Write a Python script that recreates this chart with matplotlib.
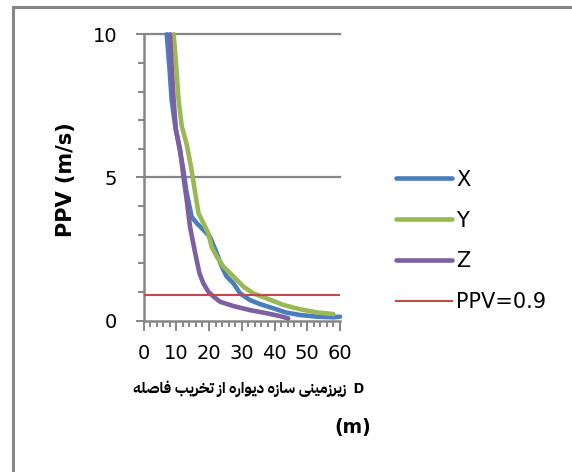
import matplotlib
matplotlib.use("Agg")
import matplotlib.pyplot as plt
from matplotlib.patches import Rectangle

# ---- data ----
x_X = [7.1, 7.9, 8.6, 9.7, 10.7, 12.0, 13.2, 14.7, 16.3, 18.3, 20.3, 22.4, 23.9, 25.4,
       27.5, 29.5, 32.5, 35.6, 39.7, 43.7, 47.8, 52.9, 58.0, 60.0]
y_X = [10.0, 8.87, 7.71, 6.78, 6.19, 5.38, 4.45, 3.63, 3.40, 3.17, 2.93, 2.35, 1.89, 1.54,
       1.30, 0.95, 0.72, 0.58, 0.43, 0.28, 0.20, 0.14, 0.12, 0.14]
x_Y = [9.2, 10.0, 10.7, 11.7, 13.2, 14.5, 15.8, 16.8, 18.3, 19.8, 20.8, 22.4, 24.4, 27.5,
       30.5, 33.6, 37.6, 42.7, 47.8, 52.9, 58.0]
y_Y = [10.0, 8.87, 7.71, 6.78, 6.15, 5.38, 4.45, 3.75, 3.40, 3.05, 2.58, 2.23, 1.89, 1.54,
       1.19, 0.95, 0.78, 0.55, 0.40, 0.29, 0.23]
x_Z = [8.1, 8.6, 9.2, 9.9, 11.2, 12.2, 13.2, 14.2, 15.8, 17.1, 18.3, 19.8, 21.4, 23.4,
       27.5, 32.5, 37.6, 41.7, 44.2]
y_Z = [10.0, 8.87, 7.71, 6.66, 5.96, 5.03, 4.21, 3.28, 2.35, 1.65, 1.30, 1.01, 0.84, 0.66,
       0.51, 0.37, 0.26, 0.16, 0.08]
ppv_limit = 0.9
series_names = ["X", "Y", "Z"]
limit_label = "PPV=0.9"
x_ticks = [0, 10, 20, 30, 40, 50, 60]
y_ticks = [0, 5, 10]
ylabel = "PPV (m/s)"
xlabel_fa = "فاصله تخریب از دیواره سازه زیرزمینی"
xlabel_tail = "D"
xlabel_line2 = "(m)"

# ---- minimal Persian shaping: each word to presentation forms, drawn right-to-left ----
FORMS = {  # isolated, final, initial, medial
    'ا': ('\uFE8D', '\uFE8E', None, None),
    'ب': ('\uFE8F', '\uFE90', '\uFE91', '\uFE92'),
    'ت': ('\uFE95', '\uFE96', '\uFE97', '\uFE98'),
    'خ': ('\uFEA5', '\uFEA6', '\uFEA7', '\uFEA8'),
    'د': ('\uFEA9', '\uFEAA', None, None),
    'ر': ('\uFEAD', '\uFEAE', None, None),
    'ز': ('\uFEAF', '\uFEB0', None, None),
    'س': ('\uFEB1', '\uFEB2', '\uFEB3', '\uFEB4'),
    'ص': ('\uFEB9', '\uFEBA', '\uFEBB', '\uFEBC'),
    'ف': ('\uFED1', '\uFED2', '\uFED3', '\uFED4'),
    'ل': ('\uFEDD', '\uFEDE', '\uFEDF', '\uFEE0'),
    'م': ('\uFEE1', '\uFEE2', '\uFEE3', '\uFEE4'),
    'ن': ('\uFEE5', '\uFEE6', '\uFEE7', '\uFEE8'),
    'ه': ('\uFEE9', '\uFEEA', '\uFEEB', '\uFEEC'),
    'و': ('\uFEED', '\uFEEE', None, None),
    'ی': ('\uFEEF', '\uFEF0', '\uFEF3', '\uFEF4'),
}


def shape_word(word):
    chars = list(word)
    res = []
    for i, c in enumerate(chars):
        f = FORMS.get(c)
        if f is None:
            res.append(c)
            continue
        prev = FORMS.get(chars[i - 1]) if i > 0 else None
        nxt = FORMS.get(chars[i + 1]) if i + 1 < len(chars) else None
        join_prev = prev is not None and prev[2] is not None
        join_next = nxt is not None and f[2] is not None
        if join_prev and join_next:
            res.append(f[3])
        elif join_prev:
            res.append(f[1])
        elif join_next:
            res.append(f[2])
        else:
            res.append(f[0])
    return ''.join(res)[::-1]


def shape(text):
    # the reference shows the words in left-to-right order, each word written right-to-left
    return ' '.join(shape_word(w) for w in text.split(' '))


GREY = "#868686"
fig = plt.figure(figsize=(5.72, 4.72), dpi=100)
fig.patches.append(Rectangle((13.3 / 572, -0.1), 1.2, (472 - 6.5) / 472 + 0.1,
                             transform=fig.transFigure, fill=False,
                             edgecolor=GREY, linewidth=2.2))
ax = fig.add_axes([143.5 / 572, 1 - 320.7 / 472, (340 - 143.5) / 572, (320.7 - 34.3) / 472])

lw = 3.3
ax.plot(x_X, y_X, color="#4a7ebb", lw=lw, label=series_names[0], solid_capstyle="round",
        solid_joinstyle="round", zorder=3, clip_on=False)
ax.plot(x_Y, y_Y, color="#98b954", lw=lw, label=series_names[1], solid_capstyle="round",
        solid_joinstyle="round", zorder=4, clip_on=False)
ax.plot(x_Z, y_Z, color="#7d60a0", lw=lw, label=series_names[2], solid_capstyle="round",
        solid_joinstyle="round", zorder=5, clip_on=False)
ax.axhline(ppv_limit, color="#be4b48", lw=1.5, label=limit_label, zorder=6)

ax.set_xlim(0, 60)
ax.set_ylim(0, 10)
ax.set_xticks(x_ticks)
ax.set_yticks(y_ticks)
ax.set_xticks(range(0, 61, 2), minor=True)
ax.set_yticks(range(0, 11), minor=True)
ax.tick_params(axis="both", which="both", direction="out", color=GREY, width=1.4)
ax.tick_params(axis="x", which="major", length=7.5, labelsize=14, pad=9)
ax.tick_params(axis="x", which="minor", length=4.5)
ax.tick_params(axis="y", which="major", length=6, labelsize=14, pad=13)
ax.tick_params(axis="y", which="minor", length=4.5)
for s in ["top", "right"]:
    ax.spines[s].set_visible(False)
for s in ["left", "bottom"]:
    ax.spines[s].set_color(GREY)
    ax.spines[s].set_linewidth(1.8)
for yv in [5, 10]:
    ax.axhline(yv, color=GREY, lw=1.6, zorder=1, clip_on=False)

fig.text(66 / 572, 1 - 180 / 472, ylabel, rotation=90, ha="center", va="center",
         fontsize=15, fontweight="bold")

# x-axis title: line 1 Persian words + "D", line 2 "(m)"
fig.text(364 / 572, 1 - 389 / 472, shape(xlabel_fa) + "  " + xlabel_tail,
         ha="right", va="center", fontsize=11, fontweight="bold",
         family=["IBM Plex Sans Arabic", "DejaVu Sans"])
fig.text(353 / 572, 1 - 427 / 472, xlabel_line2, ha="center", va="center",
         fontsize=13.5, fontweight="bold")

leg = fig.legend(loc="center left", bbox_to_anchor=(396 / 572, 1 - 241 / 472), frameon=False,
                 fontsize=15, handlelength=2.7, handletextpad=0.2, labelspacing=1.0,
                 borderpad=0, borderaxespad=0)

fig.savefig("out.png", dpi=100)
